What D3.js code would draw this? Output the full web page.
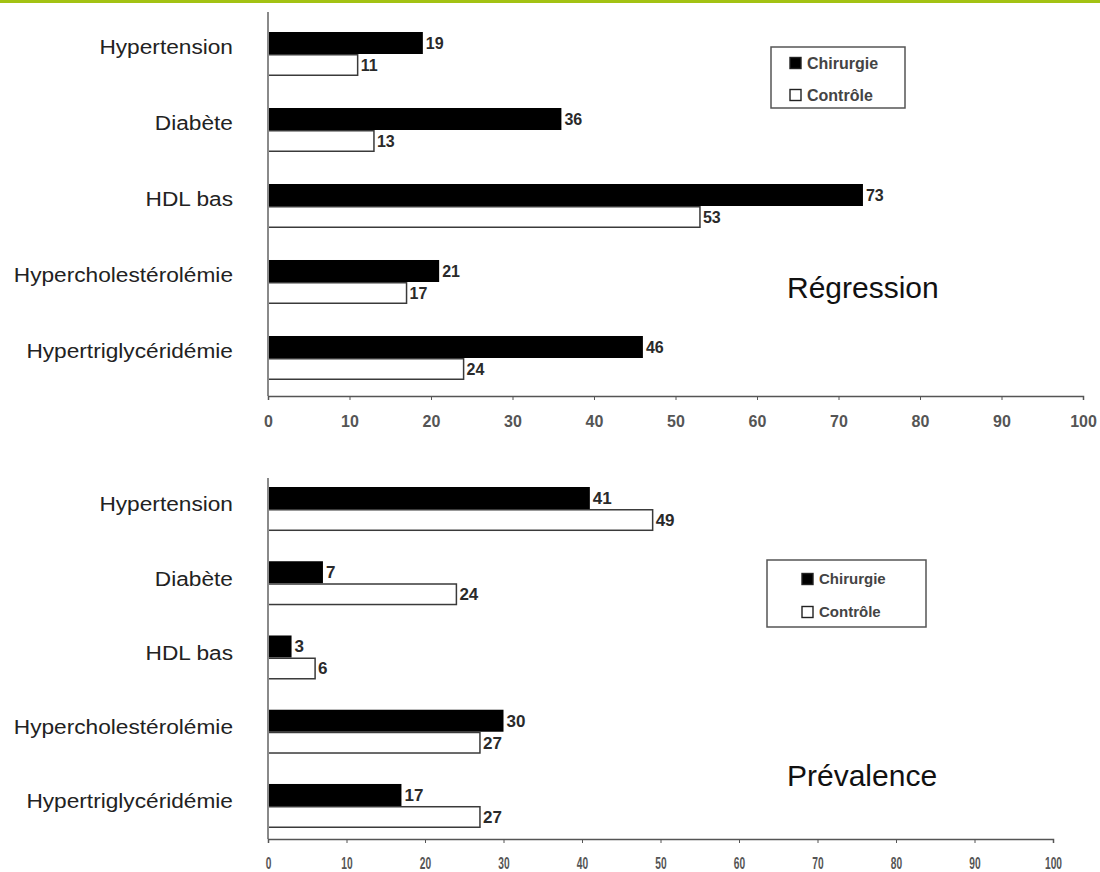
<!DOCTYPE html>
<html><head><meta charset="utf-8">
<script src="https://cdn.jsdelivr.net/npm/d3@7"></script>
<style>body{margin:0;background:#fff}svg{display:block}</style>
</head><body>
<script>
const categories = ["Hypertension","Diabète","HDL bas","Hypercholestérolémie","Hypertriglycéridémie"];
const seriesNames = ["Chirurgie","Contrôle"];
const regressionChirurgie = [19,36,73,21,46];
const regressionControle = [11,13,53,17,24];
const prevalenceChirurgie = [41,7,3,30,17];
const prevalenceControle = [49,24,6,27,27];
const xTicks = [0,10,20,30,40,50,60,70,80,90,100];

const W = 1100, H = 872;
const FONT = "Liberation Sans, Arial, sans-serif";
const svg = d3.select("body").append("svg").attr("width", W).attr("height", H);
svg.append("rect").attr("x",0).attr("y",0).attr("width",W).attr("height",3).attr("fill","#a3c213");

function panel(o){
  const g = svg.append("g");
  const x = d3.scaleLinear().domain([0,100]).range([268, o.xMax]);
  const y = d3.scaleBand().domain(categories).range(o.yRange).paddingInner(o.padIn).paddingOuter(0);
  const ys = d3.scaleBand().domain(seriesNames).range([0, y.bandwidth()]);
  const rows = categories.map((c,i)=>({cat:c, vals:[{s:"Chirurgie",v:o.chir[i]},{s:"Contrôle",v:o.ctrl[i]}]}));
  const rg = g.selectAll("g.row").data(rows).enter().append("g").attr("transform",d=>`translate(0,${y(d.cat)})`);
  rg.selectAll("rect").data(d=>d.vals).enter().append("rect")
    .attr("x", x(0)).attr("y", d=>ys(d.s)+(d.s==="Contrôle"?0.75:0))
    .attr("width", d=>x(d.v)-x(0))
    .attr("height", d=>ys.bandwidth()-(d.s==="Contrôle"?1.5:0))
    .attr("fill", d=>d.s==="Chirurgie"?"#000":"#fff")
    .attr("stroke", d=>d.s==="Chirurgie"?"none":"#3a3a3a")
    .attr("stroke-width",1.5);
  rg.selectAll("text.val").data(d=>d.vals).enter().append("text").attr("class","val")
    .attr("x", d=>x(d.v)+3).attr("y", d=>ys(d.s)+ys.bandwidth()/2)
    .attr("dy","0.35em")
    .attr("font-family",FONT).attr("font-weight","bold")
    .attr("font-size", o.valSize).attr("fill","#2a2a2a").text(d=>d.v);
  g.selectAll("text.cat").data(categories).enter().append("text").attr("class","cat")
    .attr("x",233).attr("y",d=>y(d)+y.bandwidth()/2 - o.catOff)
    .attr("dy","0.35em").attr("text-anchor","end")
    .attr("font-family",FONT).attr("font-size",21).attr("fill","#222")
    .text(d=>d)
    .each(function(){
      const t = d3.select(this); const yy = +t.attr("y");
      t.attr("transform",`translate(233,${yy}) scale(1.08,1) translate(-233,${-yy})`);
    });
  g.append("line").attr("x1",x(0)).attr("x2",x(0)).attr("y1",o.yTop).attr("y2",o.axisY)
    .attr("stroke","#8a8a8a").attr("stroke-width",2);
  const ax = g.append("g").attr("transform",`translate(0,${o.axisY})`)
    .call(d3.axisBottom(x).tickValues(xTicks).tickSize(4).tickPadding(o.tickPad).tickSizeOuter(4));
  ax.select(".domain").attr("stroke","#555").attr("stroke-width",1.5);
  ax.selectAll(".tick line").attr("stroke","#555");
  ax.selectAll("text").attr("font-family",FONT).attr("font-weight","bold")
    .attr("font-size",o.tickSize).attr("fill","#555")
    .attr("transform",`scale(${o.tickScaleX},1)`);
  const L = o.legend;
  g.append("rect").attr("x",L.x).attr("y",L.y).attr("width",L.w).attr("height",L.h)
    .attr("fill","#fff").attr("stroke","#555").attr("stroke-width",1.5);
  seriesNames.forEach((s,i)=>{
    const ly = L.y + L.first + i*L.gap;
    g.append("rect").attr("x",L.x+L.sx).attr("y",ly-L.sq/2).attr("width",L.sq).attr("height",L.sq)
      .attr("fill", i===0?"#000":"#fff").attr("stroke","#222").attr("stroke-width",1.4);
    g.append("text").attr("x",L.x+L.sx+L.sq+6).attr("y",ly).attr("dy","0.35em")
      .attr("font-family",FONT).attr("font-weight","bold")
      .attr("font-size",L.fs).attr("fill","#444").text(s);
  });
  g.append("text").attr("x",787).attr("y",o.titleY).attr("dy","0.35em")
    .attr("font-family",FONT).attr("font-size",30).attr("fill","#111")
    .text(o.title);
}

panel({chir:regressionChirurgie, ctrl:regressionControle, xMax:1083,
  yRange:[32,380], padIn:0.421, yTop:12, axisY:396, tickPad:16, tickSize:16, tickScaleX:1.0, valSize:16, catOff:7,
  legend:{x:771,y:47,w:134,h:61,first:16,gap:32,sx:19,sq:11,fs:16},
  title:"Régression", titleY:287});

panel({chir:prevalenceChirurgie, ctrl:prevalenceControle, xMax:1053,
  yRange:[487,828], padIn:0.407, yTop:478, axisY:839, tickPad:14, tickSize:17, tickScaleX:0.6, valSize:17, catOff:5,
  legend:{x:767,y:560,w:159,h:67,first:19,gap:33,sx:35,sq:11,fs:15},
  title:"Prévalence", titleY:775});
</script>
</body></html>
